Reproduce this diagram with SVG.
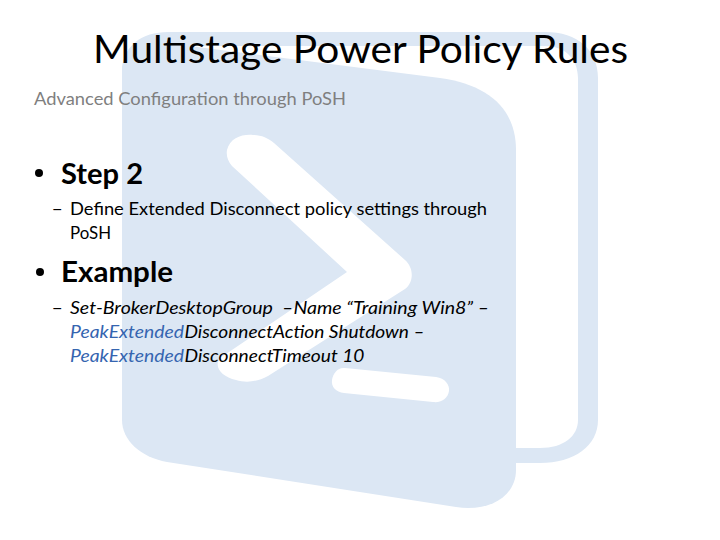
<svg xmlns="http://www.w3.org/2000/svg" width="720" height="540" viewBox="0 0 720 540">
<style>
text{font-family:"Lato","Noto Sans","Liberation Sans",sans-serif;fill:#000}
.t{font-size:39.5px}
.s{font-size:18px;fill:#7f7f7f}
.h{font-size:28.5px;font-weight:700}
.b{font-size:18px}
.i{font-style:italic}
.blue{fill:#3565b0}
</style>
<rect width="720" height="540" fill="#fff"/>
<g id="logo">
<path fill="#dce7f4" d="M122 72C122 46 142 32 168 32H545C578 32 598 50 598 78V420C598 446 574 463 540 463H516V448H540C564 448 578 436 578 420V78C578 58 564 46 545 46H190Z"/>
<path fill="#dce7f4" d="M122 72C122 50 140 41 170 43.500L440 78C490 85 516 110 516 150V470C516 496 490 512 456 507L167 462C140 457 122 440 122 420Z"/>
<path fill="#fff" d="M227 150C230 138 242 134 253 135C261 135 268 138 274 143L405 260C414 268 414 282 405 289L268 376C257 382 246 383 236 380C224 377 216 370 218 362C219 358 222 356 226 354L347 272L232 166C228 161 226 156 227 150Z"/>
<path fill="#fff" d="M345 368L436 377C445 378 450 385 449 391C448 398 442 403 433 402L344 393C336 392 331 387 332 380C333 373 338 367 345 368Z"/>
</g>
<g id="title"><text class="t" x="93" y="63" textLength="535" lengthAdjust="spacingAndGlyphs">Multistage Power Policy Rules</text></g>
<g id="subtitle"><text class="s" x="34" y="105" textLength="312" lengthAdjust="spacingAndGlyphs">Advanced Configuration through PoSH</text></g>
<g id="step2">
<circle cx="39" cy="173" r="4"/>
<text class="h" x="61" y="183.500" textLength="82" lengthAdjust="spacingAndGlyphs">Step 2</text>
<text class="b" x="52" y="215">−</text>
<text class="b" x="70" y="215" textLength="417" lengthAdjust="spacingAndGlyphs">Define Extended Disconnect policy settings through</text>
<text class="b" x="70" y="239" textLength="41" lengthAdjust="spacingAndGlyphs">PoSH</text>
</g>
<g id="example">
<circle cx="40" cy="272" r="4"/>
<text class="h" x="61" y="282" textLength="112" lengthAdjust="spacingAndGlyphs">Example</text>
<text class="b" x="52" y="314">−</text>
<text class="b i" x="70" y="314" textLength="419" lengthAdjust="spacingAndGlyphs" xml:space="preserve">Set-BrokerDesktopGroup  –Name “Training Win8” –</text>
<text class="b i blue" x="70" y="338" textLength="114" lengthAdjust="spacingAndGlyphs">PeakExtended</text>
<text class="b i" x="184.500" y="338" textLength="240" lengthAdjust="spacingAndGlyphs">DisconnectAction Shutdown –</text>
<text class="b i blue" x="70" y="362" textLength="114" lengthAdjust="spacingAndGlyphs">PeakExtended</text>
<text class="b i" x="184.500" y="362" textLength="180" lengthAdjust="spacingAndGlyphs">DisconnectTimeout 10</text>
</g>
</svg>
